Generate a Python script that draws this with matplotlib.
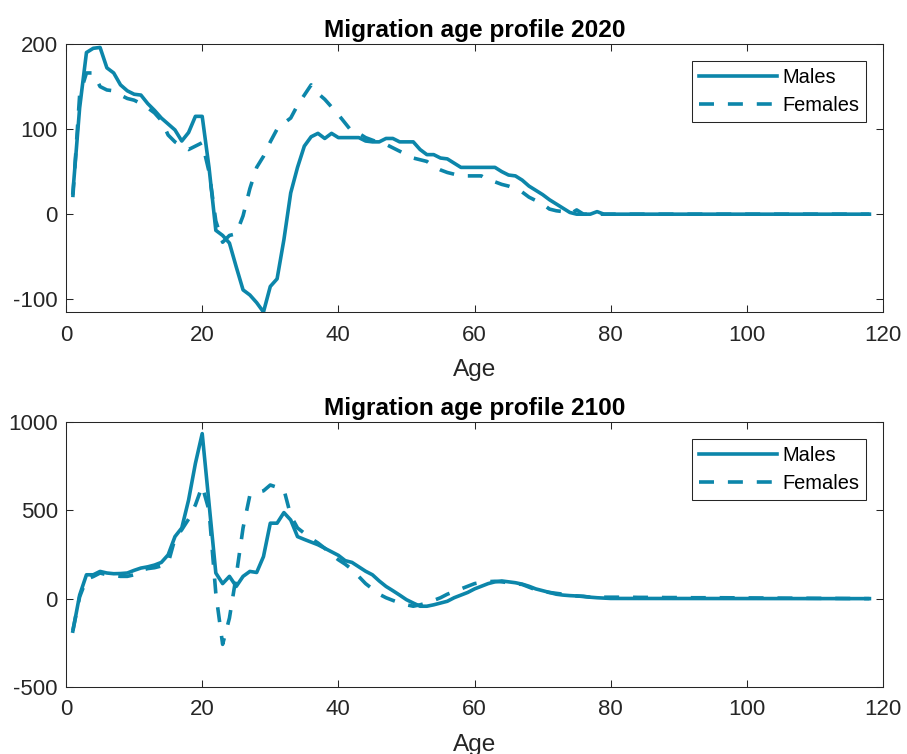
import numpy as np
import matplotlib.pyplot as plt

plt.rcParams['font.family'] = ['Liberation Sans', 'DejaVu Sans']
plt.rcParams['axes.unicode_minus'] = False

# Net migration by single year of age (ages 1..80, then zero to 118)
ages_2020 = list(range(1, 81)) + [118]
males_2020 = [25, 125, 190, 195, 196, 172, 166, 152, 145, 141,
              140, 130, 122, 113, 106, 99, 86, 96, 115, 115,
              55, -19, -25, -34, -62, -89, -95, -104, -115, -85,
              -76, -30, 25, 55, 80, 91, 95, 89, 95, 90,
              90, 90, 90, 86, 85, 85, 89, 89, 85, 85,
              85, 76, 70, 70, 66, 65, 60, 55, 55, 55,
              55, 55, 55, 50, 46, 45, 40, 33, 28, 23,
              17, 12, 7, 2, 0, 0, 0, 3, 0, 0,
              0]
females_2020 = [20, 140, 166, 166, 150, 146, 145, 140, 136, 134,
                130, 125, 119, 110, 93, 85, 80, 76, 80, 84,
                50, -8, -33, -25, -23, -2, 30, 55, 68, 85,
                100, 107, 113, 128, 140, 152, 142, 135, 126, 117,
                107, 97, 95, 90, 87, 84, 82, 78, 74, 70,
                66, 64, 62, 56, 52, 49, 47, 45, 45, 45,
                45, 40, 38, 35, 33, 30, 26, 20, 16, 12,
                6, 4, 3, 0, 5, 0, 0, 0, 0, 0,
                0]

ages_2100_m = list(range(1, 81)) + [118]
males_2100 = [-184, 20, 135, 135, 154, 145, 141, 142, 145, 160,
              173, 180, 190, 205, 248, 351, 400, 558, 765, 934,
              540, 145, 85, 126, 69, 126, 154, 148, 238, 427,
              427, 487, 445, 351, 335, 320, 305, 285, 265, 245,
              215, 205, 180, 155, 135, 100, 69, 45, 20, -6,
              -25, -43, -43, -35, -25, -15, 5, 20, 35, 55,
              70, 85, 95, 100, 95, 90, 82, 70, 55, 45,
              35, 25, 20, 17, 15, 13, 8, 5, 3, 1,
              0]
ages_2100_f = list(range(1, 97)) + [118]
females_2100 = [-180, 10, 110, 125, 145, 135, 130, 126, 126, 135,
                160, 170, 175, 185, 201, 340, 390, 450, 530, 637,
                500, 30, -259, -110, 130, 400, 585, 600, 610, 643,
                630, 618, 470, 400, 370, 340, 315, 285, 250, 220,
                195, 165, 125, 85, 55, 25, 5, -10, -24, -35,
                -43, -35, -25, -10, 5, 25, 40, 55, 70, 85,
                92, 96, 98, 95, 90, 85, 80, 65, 50, 40,
                35, 30, 25, 20, 15, 12, 8, 8, 8, 8,
                8, 8, 8, 7, 7, 7, 7, 6, 6, 6,
                6, 5, 5, 5, 5, 5, 0]

panels = [
    ('Migration age profile 2020', ages_2020, males_2020, ages_2020, females_2020,
     [0.0728, 0.5862, 0.9008, 0.3554], (-115, 200), [-100, 0, 100, 200]),
    ('Migration age profile 2100', ages_2100_m, males_2100, ages_2100_f, females_2100,
     [0.0728, 0.0889, 0.9008, 0.3515], (-500, 1000), [-500, 0, 500, 1000]),
]

color = '#0C86AA'
dark = '#262626'

fig = plt.figure(figsize=(9.07, 7.54), dpi=100)
for title, am, m, af, f, rect, ylim, yticks in panels:
    ax = fig.add_axes(rect)
    ax.plot(am, m, color=color, lw=2.6, label='Males')
    ax.plot(af, f, color=color, lw=2.6, linestyle=(0, (4.15, 3.85)), label='Females')
    ax.set_xlim(0, 120)
    ax.set_ylim(*ylim)
    ax.set_yticks(yticks)
    ax.set_xticks(range(0, 121, 20))
    ax.set_title(title, fontsize=17.6, fontweight='bold', pad=5)
    ax.set_xlabel('Age', fontsize=17.6, color=dark, labelpad=10)
    ax.tick_params(direction='in', length=5, width=0.75, colors=dark,
                   labelsize=16, top=True, right=True)
    ax.tick_params(axis='x', pad=9)
    ax.tick_params(axis='y', pad=6)
    for s in ax.spines.values():
        s.set_color(dark)
        s.set_linewidth(0.75)
    leg = ax.legend(loc='upper right', fontsize=14.4, handlelength=3.9,
                    handletextpad=0.25, labelspacing=0.45, borderpad=0.35,
                    borderaxespad=0.85, fancybox=False, framealpha=1)
    leg.get_frame().set_edgecolor(dark)
    leg.get_frame().set_linewidth(0.75)

fig.savefig('out.png', dpi=100)
